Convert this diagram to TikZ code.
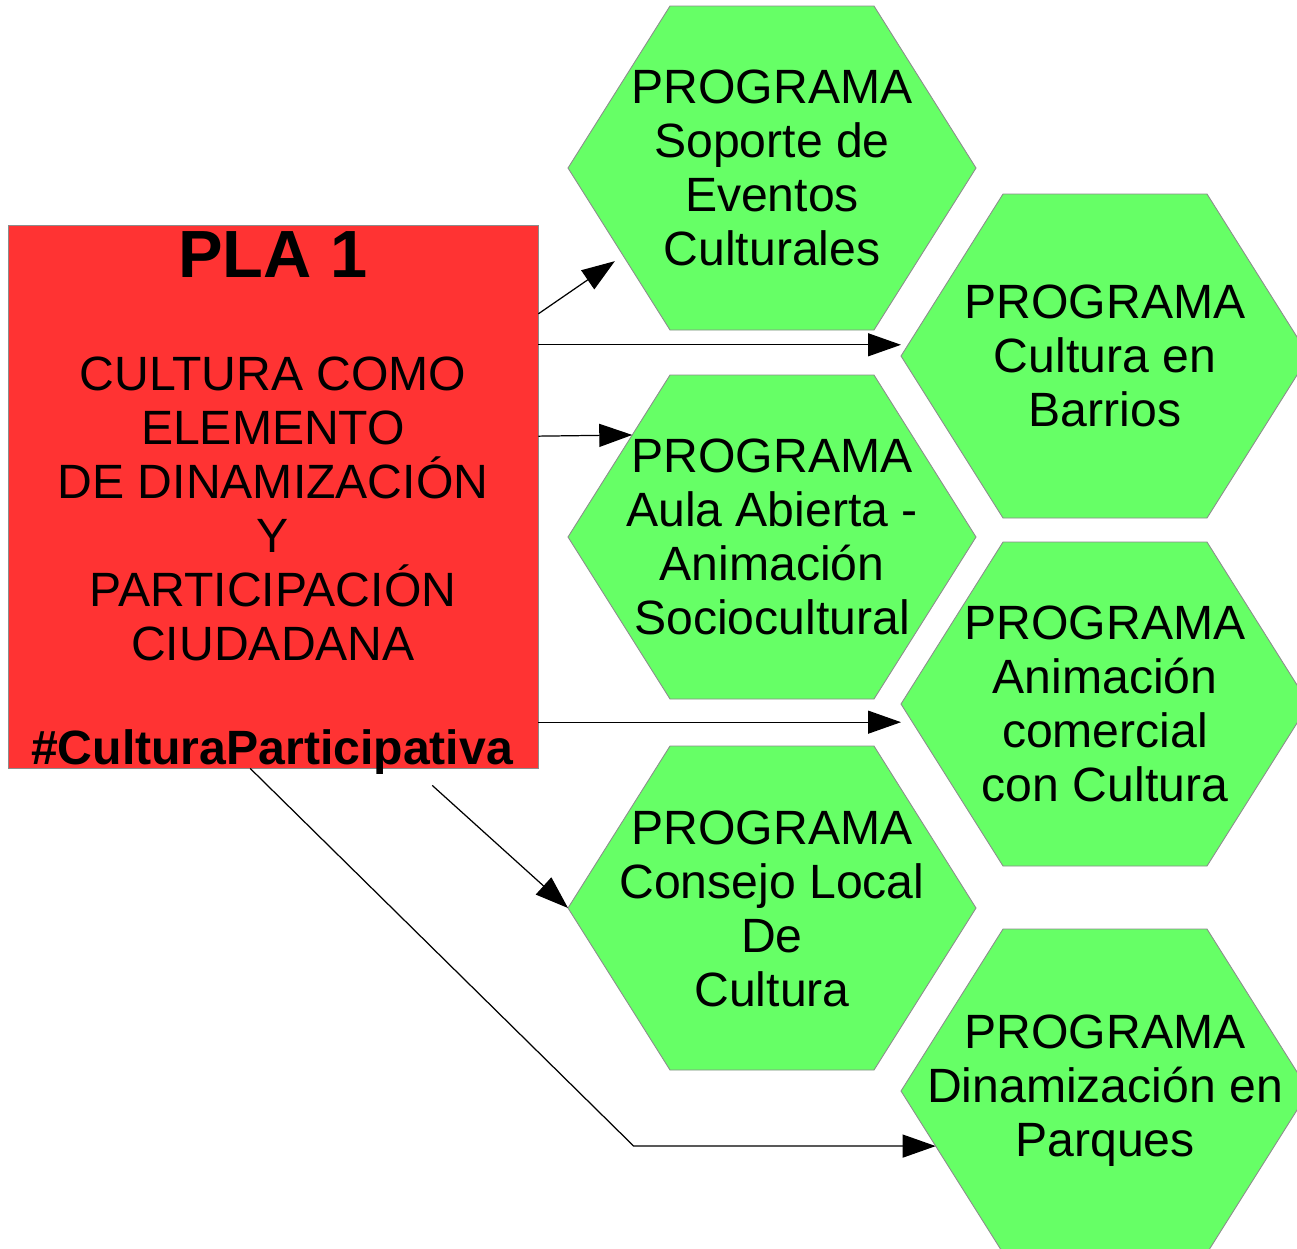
\documentclass[tikz,border=0pt]{standalone}
\usepackage{fontspec}
\setmainfont{Liberation Sans}
\usepackage{tikz}
\usetikzlibrary{arrows.meta,calc,positioning}
\definecolor{plared}{RGB}{255,51,51}
\definecolor{proggreen}{RGB}{102,255,102}
\definecolor{edgegrey}{RGB}{140,140,140}

\begin{document}
\begin{tikzpicture}[
    x=0.02cm, y=-0.02cm,
    hex/.style={fill=proggreen, draw=edgegrey, line width=0.5pt},
    prog/.style={align=center, inner sep=0pt, font=\fontsize{27.4}{30.7}\selectfont},
    plabox/.style={fill=plared, draw=edgegrey, line width=0.5pt, minimum width=10.6cm,
                   minimum height=10.86cm, inner sep=0pt},
    arr/.style={-{Triangle[length=0.66cm, width=0.46cm]}, line width=0.7pt, black}
]
    \useasboundingbox (0,0) rectangle (1297,1248);
    % hexagons
    \foreach \n/\cx/\cy in {sop/772/168, bar/1105/356, aula/772/537,
                            com/1105/704, cons/772/908, parq/1105/1091}
        \path[hex] (\cx-204,\cy) coordinate (\n-w) -- ++(102,-162) coordinate (\n-nw)
            -- ++(204,0) coordinate (\n-ne) -- ++(102,162) coordinate (\n-e)
            -- ++(-102,162) coordinate (\n-se) -- ++(-204,0) coordinate (\n-sw) -- cycle;
    \node[prog] (sop)  at (772,168)  {PROGRAMA\\Soporte de\\Eventos\\Culturales};
    \node[prog] (bar)  at (1105,356) {PROGRAMA\\Cultura en\\Barrios};
    \node[prog] (aula) at (772,537)  {PROGRAMA\\Aula Abierta -\\Animación\\Sociocultural};
    \node[prog] (com)  at (1105,704) {PROGRAMA\\Animación\\comercial\\con Cultura};
    \node[prog] (cons) at (772,909)  {PROGRAMA\\Consejo Local\\De\\Cultura};
    \node[prog] (parq) at (1105,1091) {PROGRAMA\\Dinamización en\\Parques};
    % plan box
    \node[plabox] (pla) at (273,496.5) {};
    \node[font=\bfseries\fontsize{38}{40}\selectfont] (title) at (273,255) {PLA 1};
    \node[prog] (lema) at (273,509) {CULTURA COMO\\ELEMENTO\\DE DINAMIZACIÓN\\Y\\PARTICIPACIÓN\\CIUDADANA};
    \node[prog, font=\bfseries\fontsize{27.4}{30.7}\selectfont] (tag) at (272,752) {\#CulturaParticipativa};
    % connectors
    \coordinate (a1) at ($(pla.north east)!0.164!(pla.south east)$);
    \coordinate (a2) at ($(pla.north east)!0.221!(pla.south east)$);
    \coordinate (a3) at ($(pla.north east)!0.389!(pla.south east)$);
    \coordinate (a4) at ($(pla.north east)!0.915!(pla.south east)$);
    \coordinate (a5) at ($(pla.south west)!0.8!(pla.south east)+(0,17)$);
    \coordinate (a6) at ($(pla.south west)!0.457!(pla.south east)$);
    \coordinate (t6) at ($(parq-w)!0.34!(parq-sw)$);
    \coordinate (bend) at ($(t6)+(-302,0)$);
    \draw[arr, shorten >=0.2cm] (a1) -- ($(sop-w)!0.54!(sop-sw)$);
    \draw[arr] (a2) -- (a2 -| bar-w);
    \draw[arr] (a3) -- ($(aula-nw)!0.37!(aula-w)$);
    \draw[arr] (a4) -- (a4 -| com-w);
    \draw[arr] (a5) -- (cons-w);
    \draw[arr] (a6) -- (bend) -- (t6);
\end{tikzpicture}
\end{document}
